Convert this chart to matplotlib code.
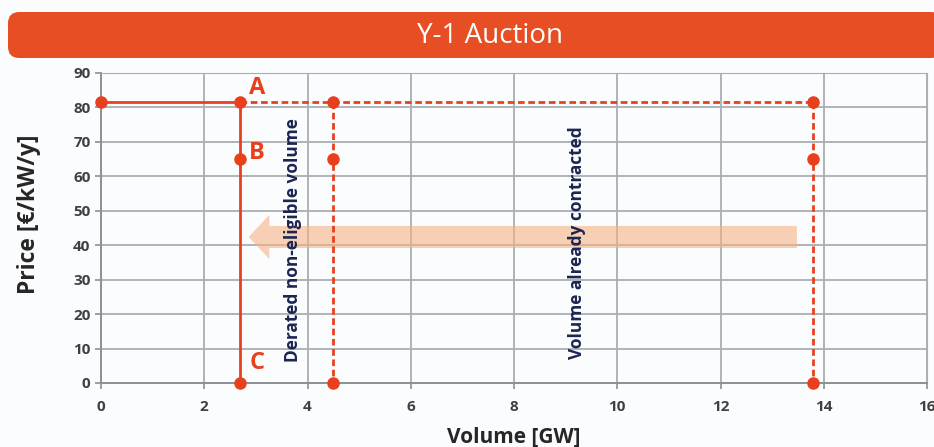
import numpy as np
import matplotlib.pyplot as plt
from matplotlib.patches import FancyBboxPatch

plt.rcParams['font.family'] = ['Open Sans', 'DejaVu Sans']

# data
price_cap = 81.5
price_b = 65
vol_a = 2.7
vol_derated = 4.5
vol_contracted = 13.8

solid_x = [0, vol_a, vol_a]
solid_y = [price_cap, price_cap, 0]
solid_mx = [0, vol_a, vol_a, vol_a]
solid_my = [price_cap, price_cap, price_b, 0]

dash_top_x = [vol_a, vol_contracted]
dash_top_y = [price_cap, price_cap]
dash_vx = [vol_derated, vol_contracted]
dash_vy = [price_cap, price_b, 0]

arrow_start = 13.48
arrow_tip = 2.86
arrow_y = 42.4

x_ticks = [0, 2, 4, 6, 8, 10, 12, 14, 16]
y_ticks = [0, 10, 20, 30, 40, 50, 60, 70, 80, 90]

orange = '#E8401C'
navy = '#1C2550'
grid_c = '#A9AEB3'
bg = '#FBFCFE'

fig = plt.figure(figsize=(9.34, 4.47), dpi=100, facecolor=bg)

# title banner
banner = FancyBboxPatch((8 / 934, 1 - 58 / 447), 1.0, 46 / 447,
                        boxstyle='round,pad=0,rounding_size=0.012',
                        transform=fig.transFigure, facecolor='#E84E24',
                        edgecolor='none', mutation_aspect=934 / 447)
fig.patches.append(banner)
fig.text(490 / 934, 1 - 36 / 447, 'Y-1 Auction', color='white', fontsize=20,
         ha='center', va='center')

ax = fig.add_axes([101 / 934, 1 - 383 / 447, 826 / 934, 310 / 447])
ax.set_facecolor(bg)
ax.set_xlim(0, 16)
ax.set_ylim(0, 90)
ax.set_xticks(x_ticks)
ax.set_yticks(y_ticks)
ax.grid(True, color=grid_c, linewidth=1.3)
ax.set_axisbelow(True)
for s in ['top', 'right']:
    ax.spines[s].set_color(grid_c)
for s in ['left', 'bottom']:
    ax.spines[s].set_color('#8C9196')
    ax.spines[s].set_linewidth(1.4)
ax.tick_params(colors='#8C9196', labelcolor='#404040', labelsize=11, length=4, width=1.2)
for lbl in ax.get_xticklabels() + ax.get_yticklabels():
    lbl.set_fontweight('bold')
ax.tick_params(axis='x', pad=8)

# arrow pointing left
head_len = 0.4
ax.arrow(arrow_start, arrow_y, -(arrow_start - arrow_tip - head_len), 0, width=6.4,
         head_width=12.8, head_length=head_len, length_includes_head=False,
         color='#F4B183', alpha=0.6, linewidth=0, zorder=2)

ax.plot(solid_x, solid_y, color=orange, linewidth=2, zorder=4, clip_on=False)
ax.plot(solid_mx, solid_my, 'o', color=orange, markersize=8, zorder=5, clip_on=False)
ax.plot(dash_top_x, dash_top_y, '--', color=orange, linewidth=2, dashes=(2.4, 1.3), zorder=4)
for vx in dash_vx:
    ax.plot([vx, vx], [price_cap, 0], '--', color=orange, linewidth=2, dashes=(2.4, 1.3), zorder=4)
    ax.plot([vx] * len(dash_vy), dash_vy, 'o', color=orange, markersize=8, zorder=5, clip_on=False)

ax.text(3.02, 85.5, 'A', color=orange, fontsize=17, fontweight='bold', ha='center', va='center')
ax.text(3.02, 66.9, 'B', color=orange, fontsize=17, fontweight='bold', ha='center', va='center')
ax.text(3.02, 5.8, 'C', color=orange, fontsize=17, fontweight='bold', ha='center', va='center')

ax.text(3.71, 41.5, 'Derated non-eligible volume', rotation=90, color=navy,
        fontsize=12.4, fontweight='bold', ha='center', va='center', zorder=6)
ax.text(9.23, 40.7, 'Volume already contracted', rotation=90, color=navy,
        fontsize=12.4, fontweight='bold', ha='center', va='center', zorder=6)

ax.set_xlabel('Volume [GW]', fontsize=15, fontweight='bold', color='#262626', labelpad=9)
ax.set_ylabel('Price [€/kW/y]', fontsize=16.5, fontweight='bold', color='#262626')
ax.yaxis.set_label_coords(-60 / 826, 0.545)

fig.savefig('out.png', dpi=100, facecolor=bg)
